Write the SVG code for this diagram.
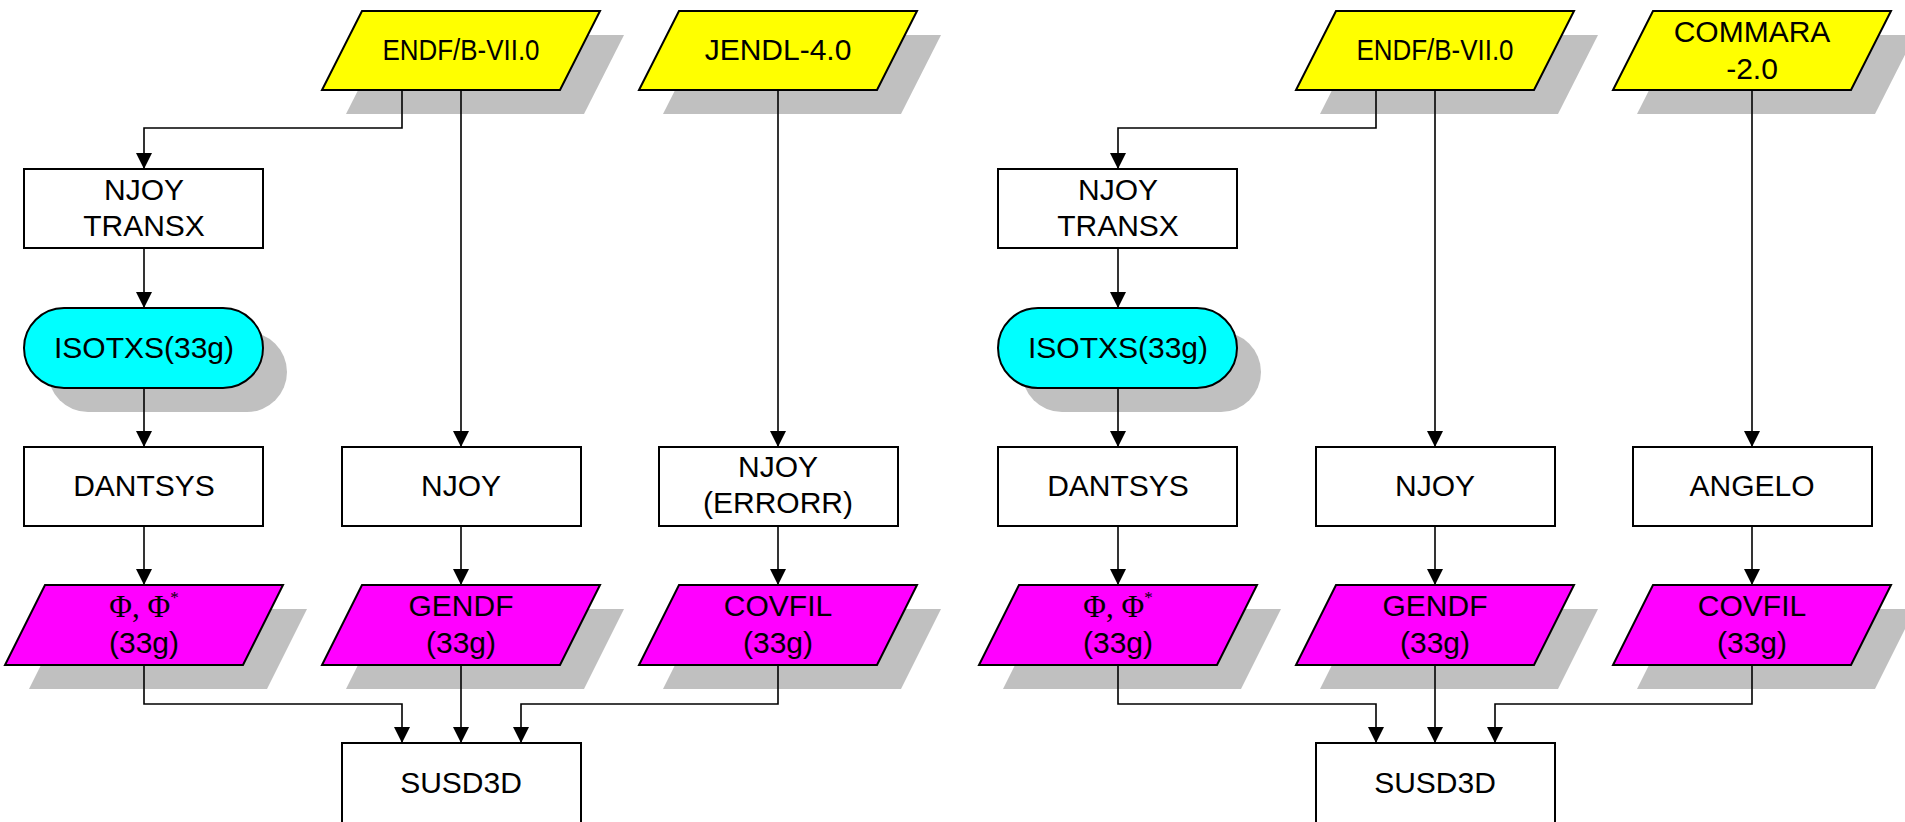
<svg xmlns="http://www.w3.org/2000/svg" xmlns:xlink="http://www.w3.org/1999/xlink" width="1905" height="822" viewBox="0 0 1905 822">
<style>
.sh{fill:#C0C0C0;stroke:none}
.y{fill:#FFFF00;stroke:#000;stroke-width:2;stroke-linejoin:miter}
.m{fill:#FF00FF;stroke:#000;stroke-width:2}
.c{fill:#00FFFF;stroke:#000;stroke-width:2}
.b{fill:#FFFFFF;stroke:#000;stroke-width:2}
.t{font-family:"Liberation Sans",Arial,sans-serif;font-size:30px;fill:#000;text-anchor:middle}
.g{font-family:"Liberation Serif","Times New Roman",serif;font-size:31px;fill:#000;text-anchor:middle}
.l{fill:none;stroke:#000;stroke-width:1.6;marker-end:url(#ah)}
.p{fill:none;stroke:#000;stroke-width:1.6}
</style>
<defs>
<marker id="ah" markerUnits="userSpaceOnUse" markerWidth="16" markerHeight="16" viewBox="0 0 16 16" refX="16" refY="8" orient="auto">
<path d="M0,0 L16,8 L0,16 Z" fill="#000"/>
</marker>
</defs>
<rect width="1905" height="822" fill="#FFFFFF"/>

<!-- LEFT DIAGRAM -->
<g id="left">
<g id="L-endf">
<polygon class="sh" points="386,35 624,35 584,114 346,114"/>
<polygon class="y" points="362,11 600,11 560,90 322,90"/>
<text class="t" x="461" y="60" textLength="157" lengthAdjust="spacingAndGlyphs">ENDF/B-VII.0</text>
</g>
<g id="L-jendl">
<polygon class="sh" points="703,35 941,35 901,114 663,114"/>
<polygon class="y" points="679,11 917,11 877,90 639,90"/>
<text class="t" x="778" y="60">JENDL-4.0</text>
</g>
<g id="L-transx">
<rect class="b" x="24" y="169" width="239" height="79"/>
<text class="t" x="144" y="200">NJOY</text>
<text class="t" x="144" y="236">TRANSX</text>
</g>
<g id="L-isotxs">
<rect class="sh" x="48" y="332" width="239" height="80" rx="40"/>
<rect class="c" x="24" y="308" width="239" height="80" rx="40"/>
<text class="t" x="144" y="358">ISOTXS(33g)</text>
</g>
<g id="L-dantsys">
<rect class="b" x="24" y="447" width="239" height="79"/>
<text class="t" x="144" y="496">DANTSYS</text>
</g>
<g id="L-njoy">
<rect class="b" x="342" y="447" width="239" height="79"/>
<text class="t" x="461" y="496">NJOY</text>
</g>
<g id="L-errorr">
<rect class="b" x="659" y="447" width="239" height="79"/>
<text class="t" x="778" y="477">NJOY</text>
<text class="t" x="778" y="513">(ERRORR)</text>
</g>
<g id="L-phi">
<polygon class="sh" points="69,609 307,609 267,689 29,689"/>
<polygon class="m" points="45,585 283,585 243,665 5,665"/>
<text class="g" x="144" y="617">Φ, Φ<tspan font-size="17" dy="-14">*</tspan></text>
<text class="t" x="144" y="653">(33g)</text>
</g>
<g id="L-gendf">
<polygon class="sh" points="386,609 624,609 584,689 346,689"/>
<polygon class="m" points="362,585 600,585 560,665 322,665"/>
<text class="t" x="461" y="616">GENDF</text>
<text class="t" x="461" y="653">(33g)</text>
</g>
<g id="L-covfil">
<polygon class="sh" points="703,609 941,609 901,689 663,689"/>
<polygon class="m" points="679,585 917,585 877,665 639,665"/>
<text class="t" x="778" y="616">COVFIL</text>
<text class="t" x="778" y="653">(33g)</text>
</g>
<g id="L-susd3d">
<rect class="b" x="342" y="743" width="239" height="90"/>
<text class="t" x="461" y="793">SUSD3D</text>
</g>
<g id="L-connectors">
<path class="l" d="M402,90 V128 H144 V169"/>
<path class="l" d="M461,90 V447"/>
<path class="l" d="M778,90 V447"/>
<path class="l" d="M144,248 V308"/>
<path class="l" d="M144,388 V447"/>
<path class="l" d="M144,526 V585"/>
<path class="l" d="M461,526 V585"/>
<path class="l" d="M778,526 V585"/>
<path class="l" d="M144,665 V704 H402 V743"/>
<path class="l" d="M461,665 V743"/>
<path class="l" d="M778,665 V704 H521 V743"/>
</g>
</g>

<!-- RIGHT DIAGRAM -->
<g id="right" transform="translate(974,0)">
<g id="R-endf">
<polygon class="sh" points="386,35 624,35 584,114 346,114"/>
<polygon class="y" points="362,11 600,11 560,90 322,90"/>
<text class="t" x="461" y="60" textLength="157" lengthAdjust="spacingAndGlyphs">ENDF/B-VII.0</text>
</g>
<g id="R-commara">
<polygon class="sh" points="703,35 941,35 901,114 663,114"/>
<polygon class="y" points="679,11 917,11 877,90 639,90"/>
<text class="t" x="778" y="42">COMMARA</text>
<text class="t" x="778" y="79">-2.0</text>
</g>
<g id="R-transx">
<rect class="b" x="24" y="169" width="239" height="79"/>
<text class="t" x="144" y="200">NJOY</text>
<text class="t" x="144" y="236">TRANSX</text>
</g>
<g id="R-isotxs">
<rect class="sh" x="48" y="332" width="239" height="80" rx="40"/>
<rect class="c" x="24" y="308" width="239" height="80" rx="40"/>
<text class="t" x="144" y="358">ISOTXS(33g)</text>
</g>
<g id="R-dantsys">
<rect class="b" x="24" y="447" width="239" height="79"/>
<text class="t" x="144" y="496">DANTSYS</text>
</g>
<g id="R-njoy">
<rect class="b" x="342" y="447" width="239" height="79"/>
<text class="t" x="461" y="496">NJOY</text>
</g>
<g id="R-angelo">
<rect class="b" x="659" y="447" width="239" height="79"/>
<text class="t" x="778" y="496">ANGELO</text>
</g>
<g id="R-phi">
<polygon class="sh" points="69,609 307,609 267,689 29,689"/>
<polygon class="m" points="45,585 283,585 243,665 5,665"/>
<text class="g" x="144" y="617">Φ, Φ<tspan font-size="17" dy="-14">*</tspan></text>
<text class="t" x="144" y="653">(33g)</text>
</g>
<g id="R-gendf">
<polygon class="sh" points="386,609 624,609 584,689 346,689"/>
<polygon class="m" points="362,585 600,585 560,665 322,665"/>
<text class="t" x="461" y="616">GENDF</text>
<text class="t" x="461" y="653">(33g)</text>
</g>
<g id="R-covfil">
<polygon class="sh" points="703,609 941,609 901,689 663,689"/>
<polygon class="m" points="679,585 917,585 877,665 639,665"/>
<text class="t" x="778" y="616">COVFIL</text>
<text class="t" x="778" y="653">(33g)</text>
</g>
<g id="R-susd3d">
<rect class="b" x="342" y="743" width="239" height="90"/>
<text class="t" x="461" y="793">SUSD3D</text>
</g>
<g id="R-connectors">
<path class="l" d="M402,90 V128 H144 V169"/>
<path class="l" d="M461,90 V447"/>
<path class="l" d="M778,90 V447"/>
<path class="l" d="M144,248 V308"/>
<path class="l" d="M144,388 V447"/>
<path class="l" d="M144,526 V585"/>
<path class="l" d="M461,526 V585"/>
<path class="l" d="M778,526 V585"/>
<path class="l" d="M144,665 V704 H402 V743"/>
<path class="l" d="M461,665 V743"/>
<path class="l" d="M778,665 V704 H521 V743"/>
</g>
</g>
</svg>
